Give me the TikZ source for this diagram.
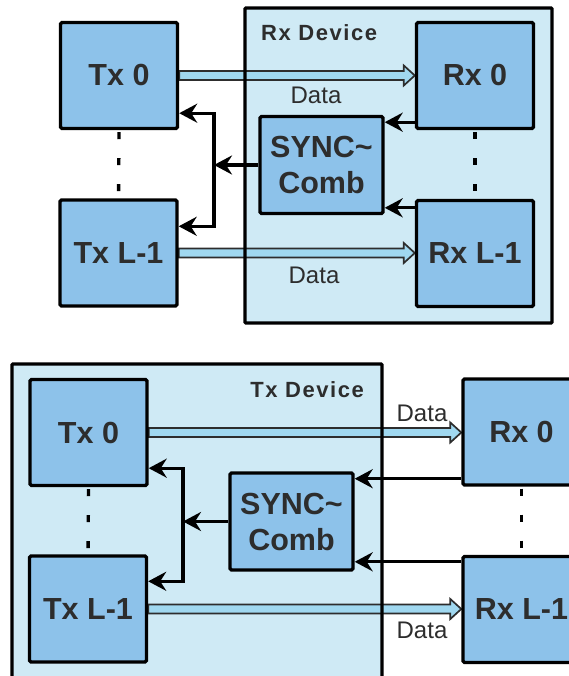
\documentclass[tikz,border=0pt]{standalone}
\usepackage{fontspec}
\setmainfont{Liberation Sans}
\newfontfamily\trackedfont{Liberation Sans}[LetterSpace=7]
\usetikzlibrary{arrows.meta,calc}

\definecolor{boxblue}{RGB}{141,194,234}
\definecolor{devblue}{RGB}{207,234,245}
\definecolor{datablue}{RGB}{160,216,240}
\definecolor{ink}{RGB}{45,45,45}

\pgfdeclarelayer{devlayer}
\pgfdeclarelayer{linklayer}
\pgfsetlayers{devlayer,linklayer,main}

\tikzset{
  unit/.style={draw=black, line width=3.4pt, fill=boxblue, rounded corners=1.5pt,
    minimum width=117pt, minimum height=106pt, inner sep=0pt, text=ink,
    font=\bfseries\fontsize{30.5}{30}\selectfont},
  combiner/.style={unit, minimum width=123pt, minimum height=97pt, align=center,
    font=\bfseries\fontsize{30.5}{36}\selectfont},
  devfill/.style={fill=devblue},
  devborder/.style={draw=black, line width=3.4pt, rounded corners=1pt},
  devtitle/.style={inner sep=0pt, text=ink, font=\trackedfont\bfseries\fontsize{22}{22}\selectfont},
  datalabel/.style={inner sep=0pt, text=ink, font=\fontsize{24}{24}\selectfont},
  tipshape/.tip={Stealth[length=18pt,width=19pt,inset=6pt]},
  syncline/.style={draw=black, line width=3.2pt, -tipshape},
  syncbus/.style={draw=black, line width=3.2pt, tipshape-tipshape},
  lanedots/.style={draw=black, line width=3.4pt, dash pattern=on 7pt off 19pt},
  dataarrow/.style={draw=ink, line width=1.7pt, fill=datablue, line join=miter,
    to path={let \p1=(\tikztostart), \p2=(\tikztotarget) in
      (\x1,\y1+4.5pt) -- (\x2-11pt,\y1+4.5pt) -- (\x2-11pt,\y1+10pt) -- (\x2,\y1)
      -- (\x2-11pt,\y1-10pt) -- (\x2-11pt,\y1-4.5pt) -- (\x1,\y1-4.5pt) -- cycle}}
}

\begin{document}
\begin{tikzpicture}[x=1pt,y=-1pt]
\useasboundingbox (0,0) rectangle (569,676);

% ---------- receiving side combines the SYNC requests ----------
\node[unit] (tx0) at (119,75.5) {Tx 0};
\node[unit] (txl) at (118.5,253) {Tx L-1};
\node[unit] (rx0) at (475,75.5) {Rx 0};
\node[unit] (rxl) at (475,253.5) {Rx L-1};
\node[combiner] (sync) at (321.5,165) {SYNC\textasciitilde\\Comb};
\node[devtitle, anchor=west] (rxdev) at (261,33) {Rx Device};
\node[datalabel] (data0) at (316,95) {Data};
\node[datalabel] (data1) at (314,275) {Data};

\begin{pgfonlayer}{devlayer}
  \fill[devfill] (245,8) rectangle (552,323);
\end{pgfonlayer}
\begin{pgfonlayer}{linklayer}
  \draw[dataarrow] (tx0.east) to (rx0.west);
  \draw[dataarrow] (txl.east) to (rxl.west);
  \draw[devborder] (245,8) rectangle (552,323);
\end{pgfonlayer}

\coordinate (busA) at (214,0);
\coordinate (r0out) at ([yshift=8pt]rx0.south west);
\coordinate (r1out) at ([yshift=-9pt]rxl.north west);
\coordinate (t0in) at ([yshift=17pt]tx0.south east);
\coordinate (t1in) at ([yshift=-28pt]txl.north east);
\draw[syncline] (r0out) -- (r0out -| sync.east);
\draw[syncline] (r1out) -- (r1out -| sync.east);
\draw[syncline] (sync.west) -- (sync.west -| busA);
\draw[syncbus] (t0in) -| (t1in -| busA) -- (t1in);
\draw[lanedots] ([yshift=-2pt]tx0.south) -- (txl.north);
\draw[lanedots] ([yshift=-2pt]rx0.south) -- (rxl.north);

% ---------- transmitting side combines the SYNC requests ----------
\node[unit] (tx0b) at (88.5,432.5) {Tx 0};
\node[unit] (txlb) at (88,609) {Tx L-1};
\node[unit] (rx0b) at (521.5,432) {Rx 0};
\node[unit] (rxlb) at (521.5,609.5) {Rx L-1};
\node[combiner] (syncb) at (291.5,521.5) {SYNC\textasciitilde\\Comb};
\node[devtitle, anchor=east] (txdev) at (364,390) {Tx Device};
\node[datalabel] (data2) at (422,413) {Data};
\node[datalabel] (data3) at (422,630) {Data};

\begin{pgfonlayer}{devlayer}
  \fill[devfill] (12,364) rectangle (382,700);
\end{pgfonlayer}
\begin{pgfonlayer}{linklayer}
  \draw[dataarrow] (tx0b.east) to (rx0b.west);
  \draw[dataarrow] (txlb.east) to (rxlb.west);
  \draw[devborder] (12,364) rectangle (382,700);
\end{pgfonlayer}

\coordinate (busB) at (183,0);
\coordinate (r0outb) at ([yshift=8pt]rx0b.south west);
\coordinate (r1outb) at ([yshift=-7pt]rxlb.north west);
\coordinate (t0inb) at ([yshift=19pt]tx0b.south east);
\coordinate (t1inb) at ([yshift=-27pt]txlb.north east);
\draw[syncline] (r0outb) -- (r0outb -| syncb.east);
\draw[syncline] (r1outb) -- (r1outb -| syncb.east);
\draw[syncline] (syncb.west) -- (syncb.west -| busB);
\draw[syncbus] (t0inb) -| (t1inb -| busB) -- (t1inb);
\draw[lanedots] ([yshift=-2pt]tx0b.south) -- (txlb.north);
\draw[lanedots] ([yshift=-2pt]rx0b.south) -- (rxlb.north);
\end{tikzpicture}
\end{document}
